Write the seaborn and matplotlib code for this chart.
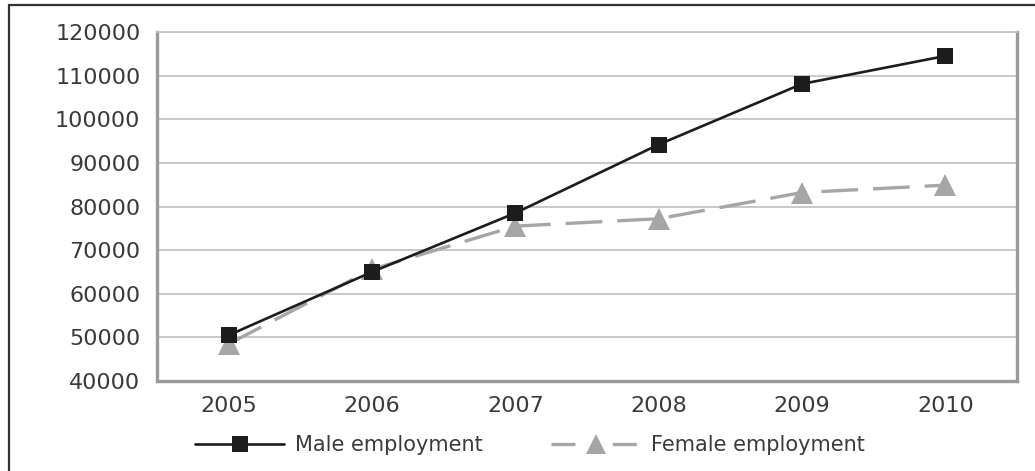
import pandas as pd
import seaborn as sns
import matplotlib.pyplot as plt
from matplotlib.patches import Rectangle

sns.set_style('white')
plt.rcParams['font.family'] = ['DejaVu Sans']

years = [2005, 2006, 2007, 2008, 2009, 2010]
male = [50500, 65000, 78500, 94200, 108100, 114500]
female = [48500, 65600, 75500, 77200, 83200, 84900]
series_names = ['Male employment', 'Female employment']
y_ticks = [40000, 50000, 60000, 70000, 80000, 90000, 100000, 110000, 120000]

df = pd.DataFrame({
    'Year': years * 2,
    'Employment': male + female,
    'Series': [series_names[0]] * len(years) + [series_names[1]] * len(years),
})

fig = plt.figure(figsize=(10.35, 4.71), dpi=100)
ax = fig.add_axes([157 / 1035, 1 - 381 / 471, (1017 - 157) / 1035, (381 - 32) / 471])

sns.lineplot(data=df, x='Year', y='Employment', hue='Series', style='Series',
             palette={series_names[0]: '#1c1c1c', series_names[1]: '#a6a6a6'},
             markers={series_names[0]: 's', series_names[1]: '^'},
             dashes={series_names[0]: '', series_names[1]: (11, 4.5)},
             ax=ax, legend=False)

# per-series line/marker styling
lines = ax.get_lines()
lines[0].set_linewidth(1.9)
lines[0].set_markersize(12)
lines[0].set_markeredgewidth(0)
lines[1].set_linewidth(2.4)
lines[1].set_dashes((11, 4.5))
lines[1].set_markersize(16)
lines[1].set_markeredgewidth(0)
lines[1].set_zorder(2)
lines[0].set_zorder(3)

ax.set_xlim(2004.5, 2010.5)
ax.set_ylim(40000, 120000)
ax.set_xticks(years)
ax.set_yticks(y_ticks)
ax.set_xlabel('')
ax.set_ylabel('')
ax.yaxis.grid(True, color='#c4c4c4', linewidth=1.3)
ax.set_axisbelow(True)
ax.tick_params(axis='both', length=0, labelsize=16, labelcolor='#3a3a3a')
ax.tick_params(axis='y', pad=12)
ax.tick_params(axis='x', pad=11)

for side in ['left', 'right', 'bottom']:
    ax.spines[side].set_color('#9a9a9a')
    ax.spines[side].set_linewidth(2.4)
ax.spines['top'].set_color('#c4c4c4')
ax.spines['top'].set_linewidth(1.3)

# legend below the axes
handles = [plt.Line2D([], [], color=l.get_color(), linestyle='-',
                      linewidth=l.get_linewidth(), marker=l.get_marker(),
                      markersize=l.get_markersize(), markeredgewidth=0)
           for l in lines]
handles[0].set_markersize(11)
handles[1].set_dashes((7.2, 11.2))
handles[1].set_markersize(15)
fig.legend(handles, series_names, loc='center', bbox_to_anchor=(530 / 1035, 1 - 445 / 471),
           ncol=2, frameon=False, fontsize=15, handlelength=4.3, handletextpad=0.5,
           columnspacing=3.3, labelcolor='#3a3a3a')

# outer frame of the figure
fig.patches.append(Rectangle((9 / 1035, -0.2), 2, 1.2 - 5 / 471, transform=fig.transFigure,
                             fill=False, edgecolor='#333333', linewidth=1.6))

plt.savefig('out.png', dpi=100)
